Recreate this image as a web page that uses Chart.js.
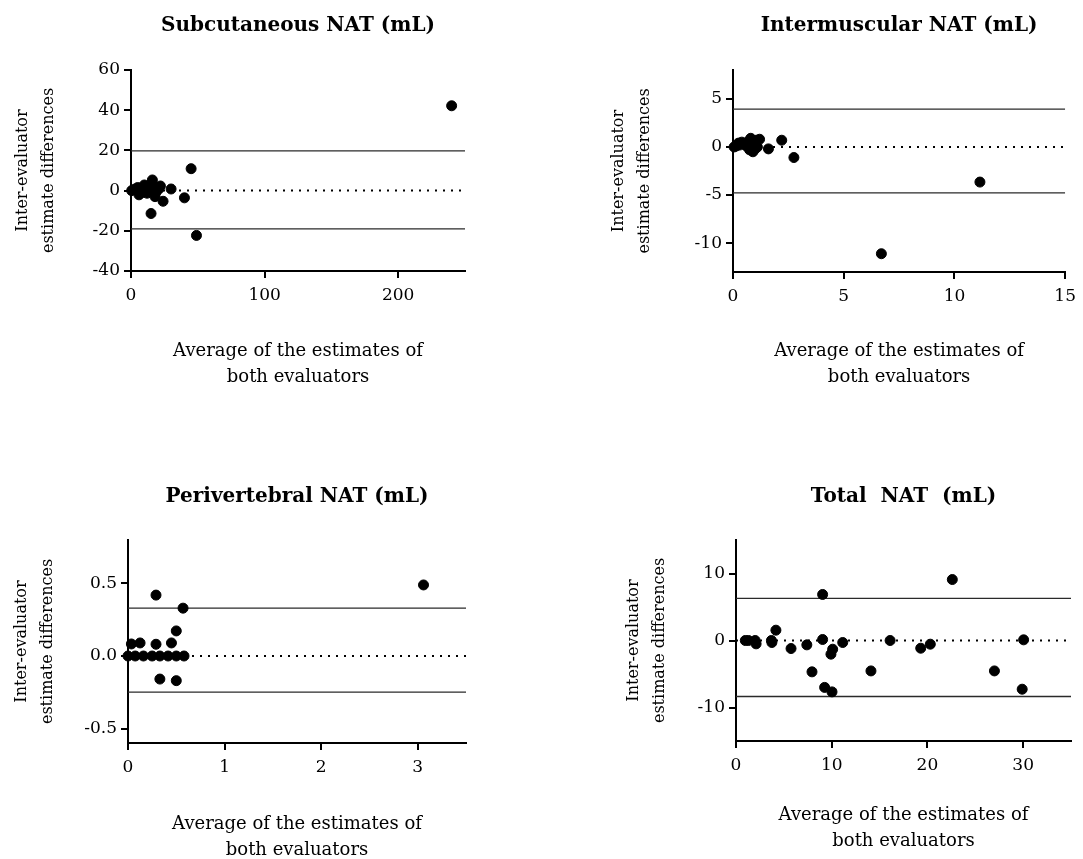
<!DOCTYPE html>
<html>
<head>
<meta charset="utf-8">
<script src="https://cdn.jsdelivr.net/npm/chart.js@4.4.1/dist/chart.umd.min.js"></script>
<style>
  html, body { margin: 0; padding: 0; background: #fff; overflow: hidden; }
  body { width: 1083px; height: 859px; position: relative; }
  canvas { position: absolute; }
</style>
</head>
<body>
<canvas id="subCanvas" width="480" height="400" style="left:0;top:0"></canvas>
<canvas id="intCanvas" width="542" height="400" style="left:541px;top:0"></canvas>
<canvas id="periCanvas" width="480" height="440" style="left:0;top:430px"></canvas>
<canvas id="totCanvas" width="542" height="440" style="left:541px;top:430px"></canvas>
<script>
// Subcutaneous NAT
const subX = [0.5, 3, 5, 6, 8, 10, 11, 12, 14, 15, 16, 17, 18, 19, 21, 22, 24, 30, 40, 45, 49, 240];
const subY = [0, 0.8, 1.5, -2.1, -1, 2.8, 0.5, -1.3, 1.8, -11.4, 5.3, 2.5, -3, -0.5, 1, 2.3, -5.3, 0.8, -3.6, 10.9, -22.3, 42.2];
const subLimits = [19.8, -19.0];
const subXRange = [0, 250];
const subYRange = [-40, 60];
const subXTicks = [0, 100, 200];
const subYTicks = [-40, -20, 0, 20, 40, 60];

// Intermuscular NAT
const intX = [0.05, 0.15, 0.25, 0.3, 0.4, 0.5, 0.6, 0.7, 0.75, 0.8, 0.85, 0.9, 0.95, 1.0, 1.05, 1.1, 1.2, 1.6, 2.2, 2.75, 6.7, 11.15];
const intY = [0, 0.1, 0.4, 0.2, 0.5, 0.3, 0.1, 0.6, -0.3, 0.9, 0.2, -0.5, 0.4, -0.2, 0.7, 0, 0.8, -0.2, 0.7, -1.1, -11.1, -3.65];
const intLimits = [3.94, -4.77];
const intXRange = [0, 15];
const intYRange = [-13, 8];
const intXTicks = [0, 5, 10, 15];
const intYTicks = [-10, -5, 0, 5];

// Perivertebral NAT
const periX = [0, 0.075, 0.16, 0.25, 0.33, 0.415, 0.5, 0.58, 0.035, 0.125, 0.29, 0.45, 0.5, 0.29, 0.57, 0.33, 0.5, 3.06];
const periY = [0, 0, 0, 0, 0, 0, 0, 0, 0.083, 0.09, 0.081, 0.09, 0.173, 0.42, 0.33, -0.159, -0.17, 0.49];
const periLimits = [0.33, -0.249];
const periXRange = [0, 3.5];
const periYRange = [-0.6, 0.8];
const periXTicks = [0, 1, 2, 3];
const periYTicks = [-0.5, 0, 0.5];

// Total NAT
const totX = [0.97, 1.3, 2.0, 2.1, 3.7, 3.75, 4.17, 5.75, 7.4, 7.94, 9.05, 9.05, 9.26, 9.92, 10.03, 10.1, 11.15, 14.1, 16.1, 19.3, 20.3, 22.6, 27.0, 29.9, 30.05];
const totY = [0, 0, 0, -0.5, 0, -0.3, 1.54, -1.2, -0.65, -4.68, 6.87, 0.15, -7.0, -2.04, -7.67, -1.3, -0.3, -4.54, 0, -1.15, -0.55, 9.1, -4.54, -7.27, 0.1];
const totLimits = [6.3, -8.36];
const totXRange = [0, 35];
const totYRange = [-15, 15];
const totXTicks = [0, 10, 20, 30];
const totYTicks = [-10, 0, 10];

const yTitle = ['Inter-evaluator', 'estimate differences'];
const xTitle = ['Average of the estimates of', 'both evaluators'];

const FONT = "'DejaVu Serif', serif";

function buildPanel(id, cfg) {
    const points = cfg.xs.map((x, i) => ({ x: x, y: cfg.ys[i] }));
    const [xmin, xmax] = cfg.xRange;
    const hLine = (y, dash, width, color) => ({
        type: 'line',
        data: [{ x: xmin, y: y }, { x: xmax, y: y }],
        borderColor: color,
        borderWidth: width,
        borderDash: dash,
        pointRadius: 0,
        fill: false
    });

    new Chart(document.getElementById(id), {
        type: 'scatter',
        data: {
            datasets: [
                {
                    data: points,
                    backgroundColor: '#000',
                    borderColor: '#000',
                    pointRadius: 5,
                    clip: false
                },
                hLine(0, [2, 6], 2, '#000'),
                hLine(cfg.limits[0], [], 1.3, '#2a2a2a'),
                hLine(cfg.limits[1], [], 1.3, '#2a2a2a')
            ]
        },
        options: {
            responsive: false,
            animation: false,
            events: [],
            layout: { padding: cfg.padding },
            plugins: {
                legend: { display: false },
                tooltip: { enabled: false },
                title: {
                    display: true,
                    text: cfg.title,
                    fullSize: false,
                    color: '#000',
                    font: { family: FONT, size: 20, weight: 'bold', lineHeight: 1.2 },
                    padding: cfg.titlePad
                }
            },
            scales: {
                x: {
                    type: 'linear',
                    min: cfg.xRange[0],
                    max: cfg.xRange[1],
                    afterBuildTicks: s => { s.ticks = cfg.xTicks.map(v => ({ value: v })); },
                    afterFit: s => { s.height = cfg.xHeight; },
                    border: { display: true, color: '#000', width: 2 },
                    grid: { drawOnChartArea: false, drawTicks: true, tickLength: 7, color: '#000', lineWidth: 2 },
                    ticks: {
                        color: '#000',
                        padding: 7,
                        maxRotation: 0,
                        font: { family: FONT, size: 17 },
                        callback: v => String(v)
                    },
                    title: {
                        display: true,
                        text: xTitle,
                        color: '#000',
                        font: { family: FONT, size: 18, lineHeight: 1.45 },
                        padding: { top: 0, bottom: cfg.xTitlePad }
                    }
                },
                y: {
                    type: 'linear',
                    min: cfg.yRange[0],
                    max: cfg.yRange[1],
                    afterBuildTicks: s => { s.ticks = cfg.yTicks.map(v => ({ value: v })); },
                    afterFit: s => { s.width = cfg.yWidth; },
                    border: { display: true, color: '#000', width: 2 },
                    grid: { drawOnChartArea: false, drawTicks: true, tickLength: 7, color: '#000', lineWidth: 2 },
                    ticks: {
                        color: '#000',
                        padding: 4,
                        font: { family: FONT, size: 17 },
                        callback: v => cfg.yFmt ? cfg.yFmt(v) : String(v)
                    },
                    title: {
                        display: true,
                        text: yTitle,
                        color: '#000',
                        font: { family: FONT, size: 16, lineHeight: 1.6 },
                        padding: { top: cfg.yTitlePad, bottom: 0 }
                    }
                }
            }
        }
    });
}

buildPanel('subCanvas', {
    title: 'Subcutaneous NAT (mL)',
    xs: subX, ys: subY, limits: subLimits,
    xRange: subXRange, yRange: subYRange, xTicks: subXTicks, yTicks: subYTicks,
    padding: { left: 0, right: 15, top: 0, bottom: 0 },
    titlePad: { top: 14, bottom: 32 },
    yWidth: 131, xHeight: 129, xTitlePad: 10, yTitlePad: 10
});

buildPanel('intCanvas', {
    title: 'Intermuscular NAT (mL)',
    xs: intX, ys: intY, limits: intLimits,
    xRange: intXRange, yRange: intYRange, xTicks: intXTicks, yTicks: intYTicks,
    padding: { left: 0, right: 15, top: 0, bottom: 0 },
    titlePad: { top: 14, bottom: 32 },
    yWidth: 192, xHeight: 128, xTitlePad: 10, yTitlePad: 65
});

buildPanel('periCanvas', {
    title: 'Perivertebral NAT (mL)',
    xs: periX, ys: periY, limits: periLimits,
    xRange: periXRange, yRange: periYRange, xTicks: periXTicks, yTicks: periYTicks,
    padding: { left: 0, right: 14, top: 0, bottom: 0 },
    titlePad: { top: 55, bottom: 31 },
    yWidth: 128, xHeight: 127, xTitlePad: 7, yTitlePad: 9,
    yFmt: v => v.toFixed(1)
});

buildPanel('totCanvas', {
    title: 'Total  NAT  (mL)',
    xs: totX, ys: totY, limits: totLimits,
    xRange: totXRange, yRange: totYRange, xTicks: totXTicks, yTicks: totYTicks,
    padding: { left: 0, right: 12, top: 0, bottom: 0 },
    titlePad: { top: 55, bottom: 31 },
    yWidth: 195, xHeight: 129, xTitlePad: 16, yTitlePad: 80
});
</script>
</body>
</html>
